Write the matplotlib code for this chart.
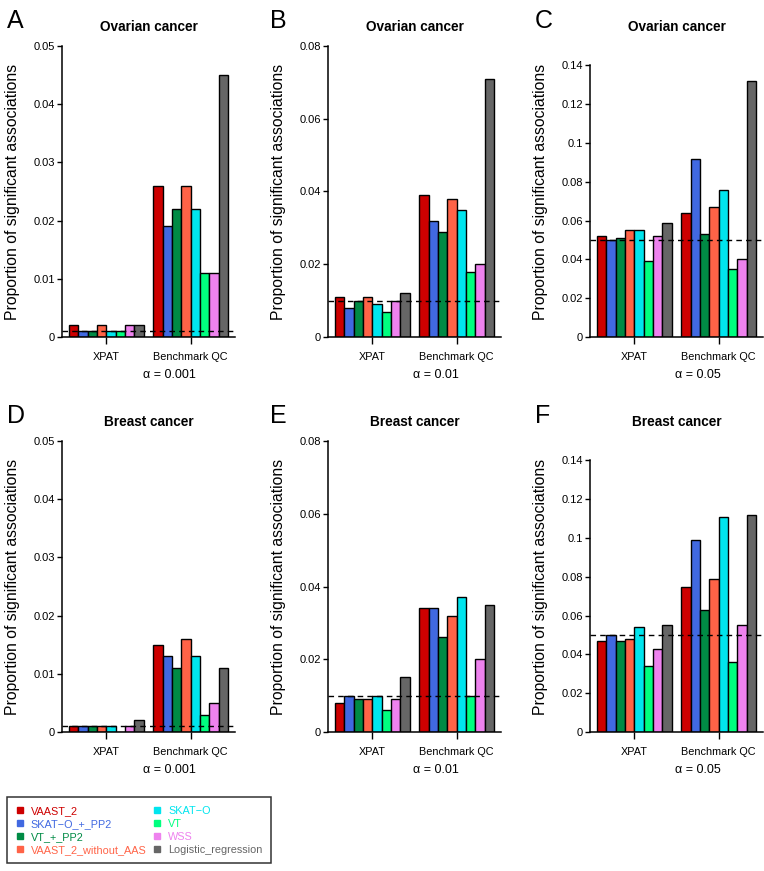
import numpy as np
import matplotlib
import matplotlib.pyplot as plt
from matplotlib.lines import Line2D

matplotlib.use('Agg')
plt.rcParams['font.family'] = ['Liberation Sans', 'DejaVu Sans']

methods = ['VAAST_2', 'SKAT\u2212O_+_PP2', 'VT_+_PP2', 'VAAST_2_without_AAS',
           'SKAT\u2212O', 'VT', 'WSS', 'Logistic_regression']
colors = ['#CD0000', '#4169E1', '#008B45', '#FF6347',
          '#00E5EE', '#00FF7F', '#EE82EE', '#666666']
groups = ['XPAT', 'Benchmark QC']

# panel values: [XPAT, Benchmark QC]
ovarian_001 = [[0.002, 0.001, 0.001, 0.002, 0.001, 0.001, 0.002, 0.002],
               [0.026, 0.019, 0.022, 0.026, 0.022, 0.011, 0.011, 0.045]]
ovarian_01 = [[0.011, 0.008, 0.010, 0.011, 0.009, 0.007, 0.010, 0.012],
              [0.039, 0.032, 0.029, 0.038, 0.035, 0.018, 0.020, 0.071]]
ovarian_05 = [[0.052, 0.050, 0.051, 0.055, 0.055, 0.039, 0.052, 0.059],
              [0.064, 0.092, 0.053, 0.067, 0.076, 0.035, 0.040, 0.132]]
breast_001 = [[0.001, 0.001, 0.001, 0.001, 0.001, 0.0, 0.001, 0.002],
              [0.015, 0.013, 0.011, 0.016, 0.013, 0.003, 0.005, 0.011]]
breast_01 = [[0.008, 0.010, 0.009, 0.009, 0.010, 0.006, 0.009, 0.015],
             [0.034, 0.034, 0.026, 0.032, 0.037, 0.010, 0.020, 0.035]]
breast_05 = [[0.047, 0.050, 0.047, 0.048, 0.054, 0.034, 0.043, 0.055],
             [0.075, 0.099, 0.063, 0.079, 0.111, 0.036, 0.055, 0.112]]

panels = [
    ('A', 'Ovarian cancer', ovarian_001, 0.001, '0.001', 0.05, 0.01),
    ('B', 'Ovarian cancer', ovarian_01, 0.01, '0.01', 0.08, 0.02),
    ('C', 'Ovarian cancer', ovarian_05, 0.05, '0.05', 0.15, 0.02),
    ('D', 'Breast cancer', breast_001, 0.001, '0.001', 0.05, 0.01),
    ('E', 'Breast cancer', breast_01, 0.01, '0.01', 0.08, 0.02),
    ('F', 'Breast cancer', breast_05, 0.05, '0.05', 0.15, 0.02),
]

W, H = 764, 871
fig = plt.figure(figsize=(W / 100, H / 100), dpi=100)

lefts = [62, 328, 590]
tops = [46, 441]
ax_w, ax_h = 173, 291
letter_x = [7, 270, 535]

for i, (letter, title, vals, alpha, alpha_txt, ymax, step) in enumerate(panels):
    col, row = i % 3, i // 3
    left, top = lefts[col], tops[row]
    ax = fig.add_axes([left / W, 1 - (top + ax_h) / H, ax_w / W, ax_h / H])

    for g, gv in enumerate(vals):
        x = 1 + g * 9 + np.arange(len(methods)) + 0.5
        ax.bar(x, gv, width=1.0, color=colors, edgecolor='black', linewidth=1.0)

    ax.axhline(alpha, color='black', lw=1.0, ls=(0, (4, 3)))
    ax.set_xlim(0.28, 18.72)
    ax.set_ylim(0, ymax)

    yt = np.arange(0, ymax + 1e-9, step)
    yt = yt[yt <= ymax - 1e-9] if ymax == 0.15 else yt
    ax.set_yticks(yt)
    ax.set_yticklabels([format(round(v, 3), 'g') for v in yt], fontsize=8)
    ax.set_xticks([5, 14])
    ax.set_xticklabels(groups, fontsize=7.8)

    ax.tick_params(axis='y', length=3.5, width=1.0, pad=1.5)
    ax.tick_params(axis='x', length=5, width=1.0, pad=6)
    for s in ['top', 'right']:
        ax.spines[s].set_visible(False)
    ax.spines['left'].set_bounds(0, yt[-1])
    ax.spines['left'].set_linewidth(1.1)
    ax.spines['bottom'].set_linewidth(1.1)

    ax.text(0.5, (ax_h + 19) / ax_h, title, transform=ax.transAxes,
            ha='center', va='center', fontsize=9.8, fontweight='bold')
    ax.text(-49 / ax_w, 0.5, 'Proportion of significant associations',
            transform=ax.transAxes, rotation=90, ha='center', va='center',
            fontsize=11.3)
    ax.text(0.5 + 21 / ax_w, -38 / ax_h, '\u03b1 = ' + alpha_txt,
            transform=ax.transAxes, ha='center', va='center', fontsize=9)

    fig.text(letter_x[col] / W, 1 - (top - 18) / H, letter, fontsize=18,
             ha='left', va='baseline')

handles = [Line2D([], [], marker='s', markersize=4, linestyle='none',
                  color=c) for c in colors]
leg = fig.legend(handles, methods, loc='upper left',
                 bbox_to_anchor=(7 / W, 1 - 797 / H), borderaxespad=0,
                 ncol=2, fontsize=7.8,
                 labelcolor=colors, frameon=True, fancybox=False,
                 edgecolor='black', handlelength=0.8, handletextpad=0.6,
                 columnspacing=0.6, labelspacing=0.28, borderpad=0.8)
leg.get_frame().set_linewidth(1.1)

fig.savefig('out.png', dpi=100)
